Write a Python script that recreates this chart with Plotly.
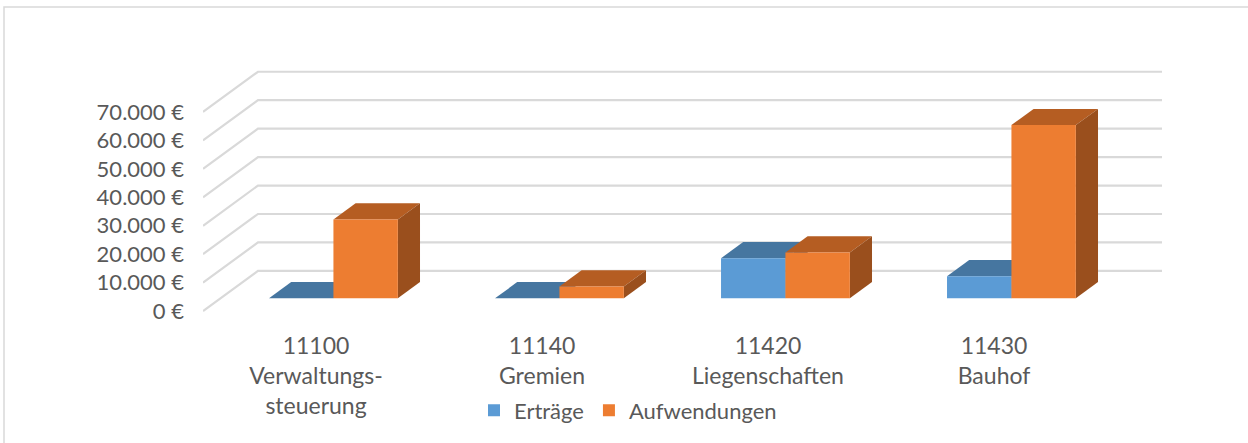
import plotly.graph_objects as go

# ---------------- data ----------------
categories = ["11100<br>Verwaltungs-<br>steuerung", "11140<br>Gremien",
              "11420<br>Liegenschaften", "11430<br>Bauhof"]
ertraege = [0, 0, 14100, 7800]
aufwendungen = [27700, 4200, 16100, 60900]
y_ticks = [0, 10000, 20000, 30000, 40000, 50000, 60000, 70000]
y_tick_labels = ["0 €", "10.000 €", "20.000 €", "30.000 €", "40.000 €",
                 "50.000 €", "60.000 €", "70.000 €"]
series_names = ["Erträge", "Aufwendungen"]

# ---------------- styling / geometry ----------------
W, H = 1248, 443
PLOT_L, PLOT_R, PLOT_T, PLOT_B = 203, 1170, 60, 320
CAT_PX = 226.0            # pixels per category on the front floor edge
PX_PER_EUR = 0.0029       # vertical pixels per euro
FRONT_ZERO_PX = 316.0     # pixel row of 0 € on the front edge

DEPTH_X = 55.0 / CAT_PX           # oblique depth shift (category units)
DEPTH_Y = 41.0 / PX_PER_EUR       # oblique depth shift (euro units)
BAR_D0, BAR_D1 = 0.317, 0.72      # bar front / back depth fraction
BAR_W = 0.285                     # bar width (category units)

FRONT = ["#5B9BD5", "#ED7D31"]
TOP = ["#4676A0", "#B55D22"]
SIDE = ["#3D6790", "#9A4F1D"]
GRID = "#D9D9D9"
TXT = "#595959"
FONT = "Lato"

x_range = [-0.5, -0.5 + (PLOT_R - PLOT_L) / CAT_PX]
y_range = [(FRONT_ZERO_PX - PLOT_B) / PX_PER_EUR, (FRONT_ZERO_PX - PLOT_T) / PX_PER_EUR]

n = len(categories)
cat_idx = list(range(n))
bar_shift_x = BAR_D0 * DEPTH_X
bar_base = BAR_D0 * DEPTH_Y
ddx = (BAR_D1 - BAR_D0) * DEPTH_X
ddy = (BAR_D1 - BAR_D0) * DEPTH_Y

fig = go.Figure()

# front faces as real bars
for s, vals in enumerate([ertraege, aufwendungen]):
    fig.add_trace(go.Bar(
        x=[i + bar_shift_x for i in cat_idx],
        y=vals,
        base=[bar_base] * n,
        width=BAR_W,
        offset=-BAR_W if s == 0 else 0,
        name=series_names[s],
        marker=dict(color=FRONT[s], line=dict(width=0)),
        hoverinfo="skip",
    ))

shapes = []

# gridlines: slanted side wall + horizontal back wall
x_left = x_range[0]
x_back_right = -0.5 + n + DEPTH_X
for v in y_ticks:
    path = (f"M {x_left},{v} L {x_left + DEPTH_X},{v + DEPTH_Y} "
            f"L {x_back_right},{v + DEPTH_Y}")
    shapes.append(dict(type="path", path=path, xref="x", yref="y",
                       line=dict(color=GRID, width=2.2), layer="below"))


def poly(pts):
    return "M " + " L ".join(f"{px},{py}" for px, py in pts) + " Z"


# top and side faces
for i in cat_idx:
    for s, vals in enumerate([ertraege, aufwendungen]):
        x0 = i + bar_shift_x + (-BAR_W if s == 0 else 0)
        x1 = x0 + BAR_W
        top = bar_base + vals[i]
        shapes.append(dict(type="path", xref="x", yref="y", layer="below",
                           path=poly([(x0, top), (x1, top), (x1 + ddx, top + ddy), (x0 + ddx, top + ddy)]),
                           fillcolor=TOP[s], line=dict(width=0)))
        if vals[i] > 0:
            shapes.append(dict(type="path", xref="x", yref="y", layer="below",
                               path=poly([(x1, bar_base), (x1, top), (x1 + ddx, top + ddy), (x1 + ddx, bar_base + ddy)]),
                               fillcolor=SIDE[s], line=dict(width=0)))

# chart border
pw = PLOT_R - PLOT_L
ph = PLOT_B - PLOT_T
shapes.append(dict(type="rect", xref="paper", yref="paper",
                   x0=(4 - PLOT_L) / pw, x1=(1260 - PLOT_L) / pw,
                   y0=(PLOT_B - 470) / ph, y1=(PLOT_B - 6) / ph,
                   line=dict(color=GRID, width=1.5), layer="below"))

fig.update_layout(
    width=W, height=H,
    margin=dict(l=PLOT_L, r=W - PLOT_R, t=PLOT_T, b=H - PLOT_B, pad=0),
    paper_bgcolor="white", plot_bgcolor="white",
    barmode="overlay",
    shapes=shapes,
    font=dict(family=FONT, size=22, color=TXT),
    showlegend=True,
    legend=dict(orientation="h", x=(474 - PLOT_L) / pw, xanchor="left",
                y=(PLOT_B - 396) / ph, yanchor="top",
                font=dict(family=FONT, size=22, color=TXT),
                bgcolor="rgba(0,0,0,0)"),
    xaxis=dict(range=x_range, tickvals=cat_idx, ticktext=categories,
               showgrid=False, zeroline=False, showline=False, ticks="",
               tickfont=dict(family=FONT, size=23, color=TXT),
               ticklabelstandoff=15, fixedrange=True, automargin=False),
    yaxis=dict(range=y_range, tickvals=y_ticks, ticktext=y_tick_labels,
               showgrid=False, zeroline=False, showline=False, ticks="",
               tickfont=dict(family=FONT, size=22, color=TXT),
               ticklabelstandoff=18, fixedrange=True, automargin=False),
)

fig.write_html(
    "out.html",
    config={"displayModeBar": False},
    post_script="document.body.style.margin='0';document.body.style.overflow='hidden';",
)
